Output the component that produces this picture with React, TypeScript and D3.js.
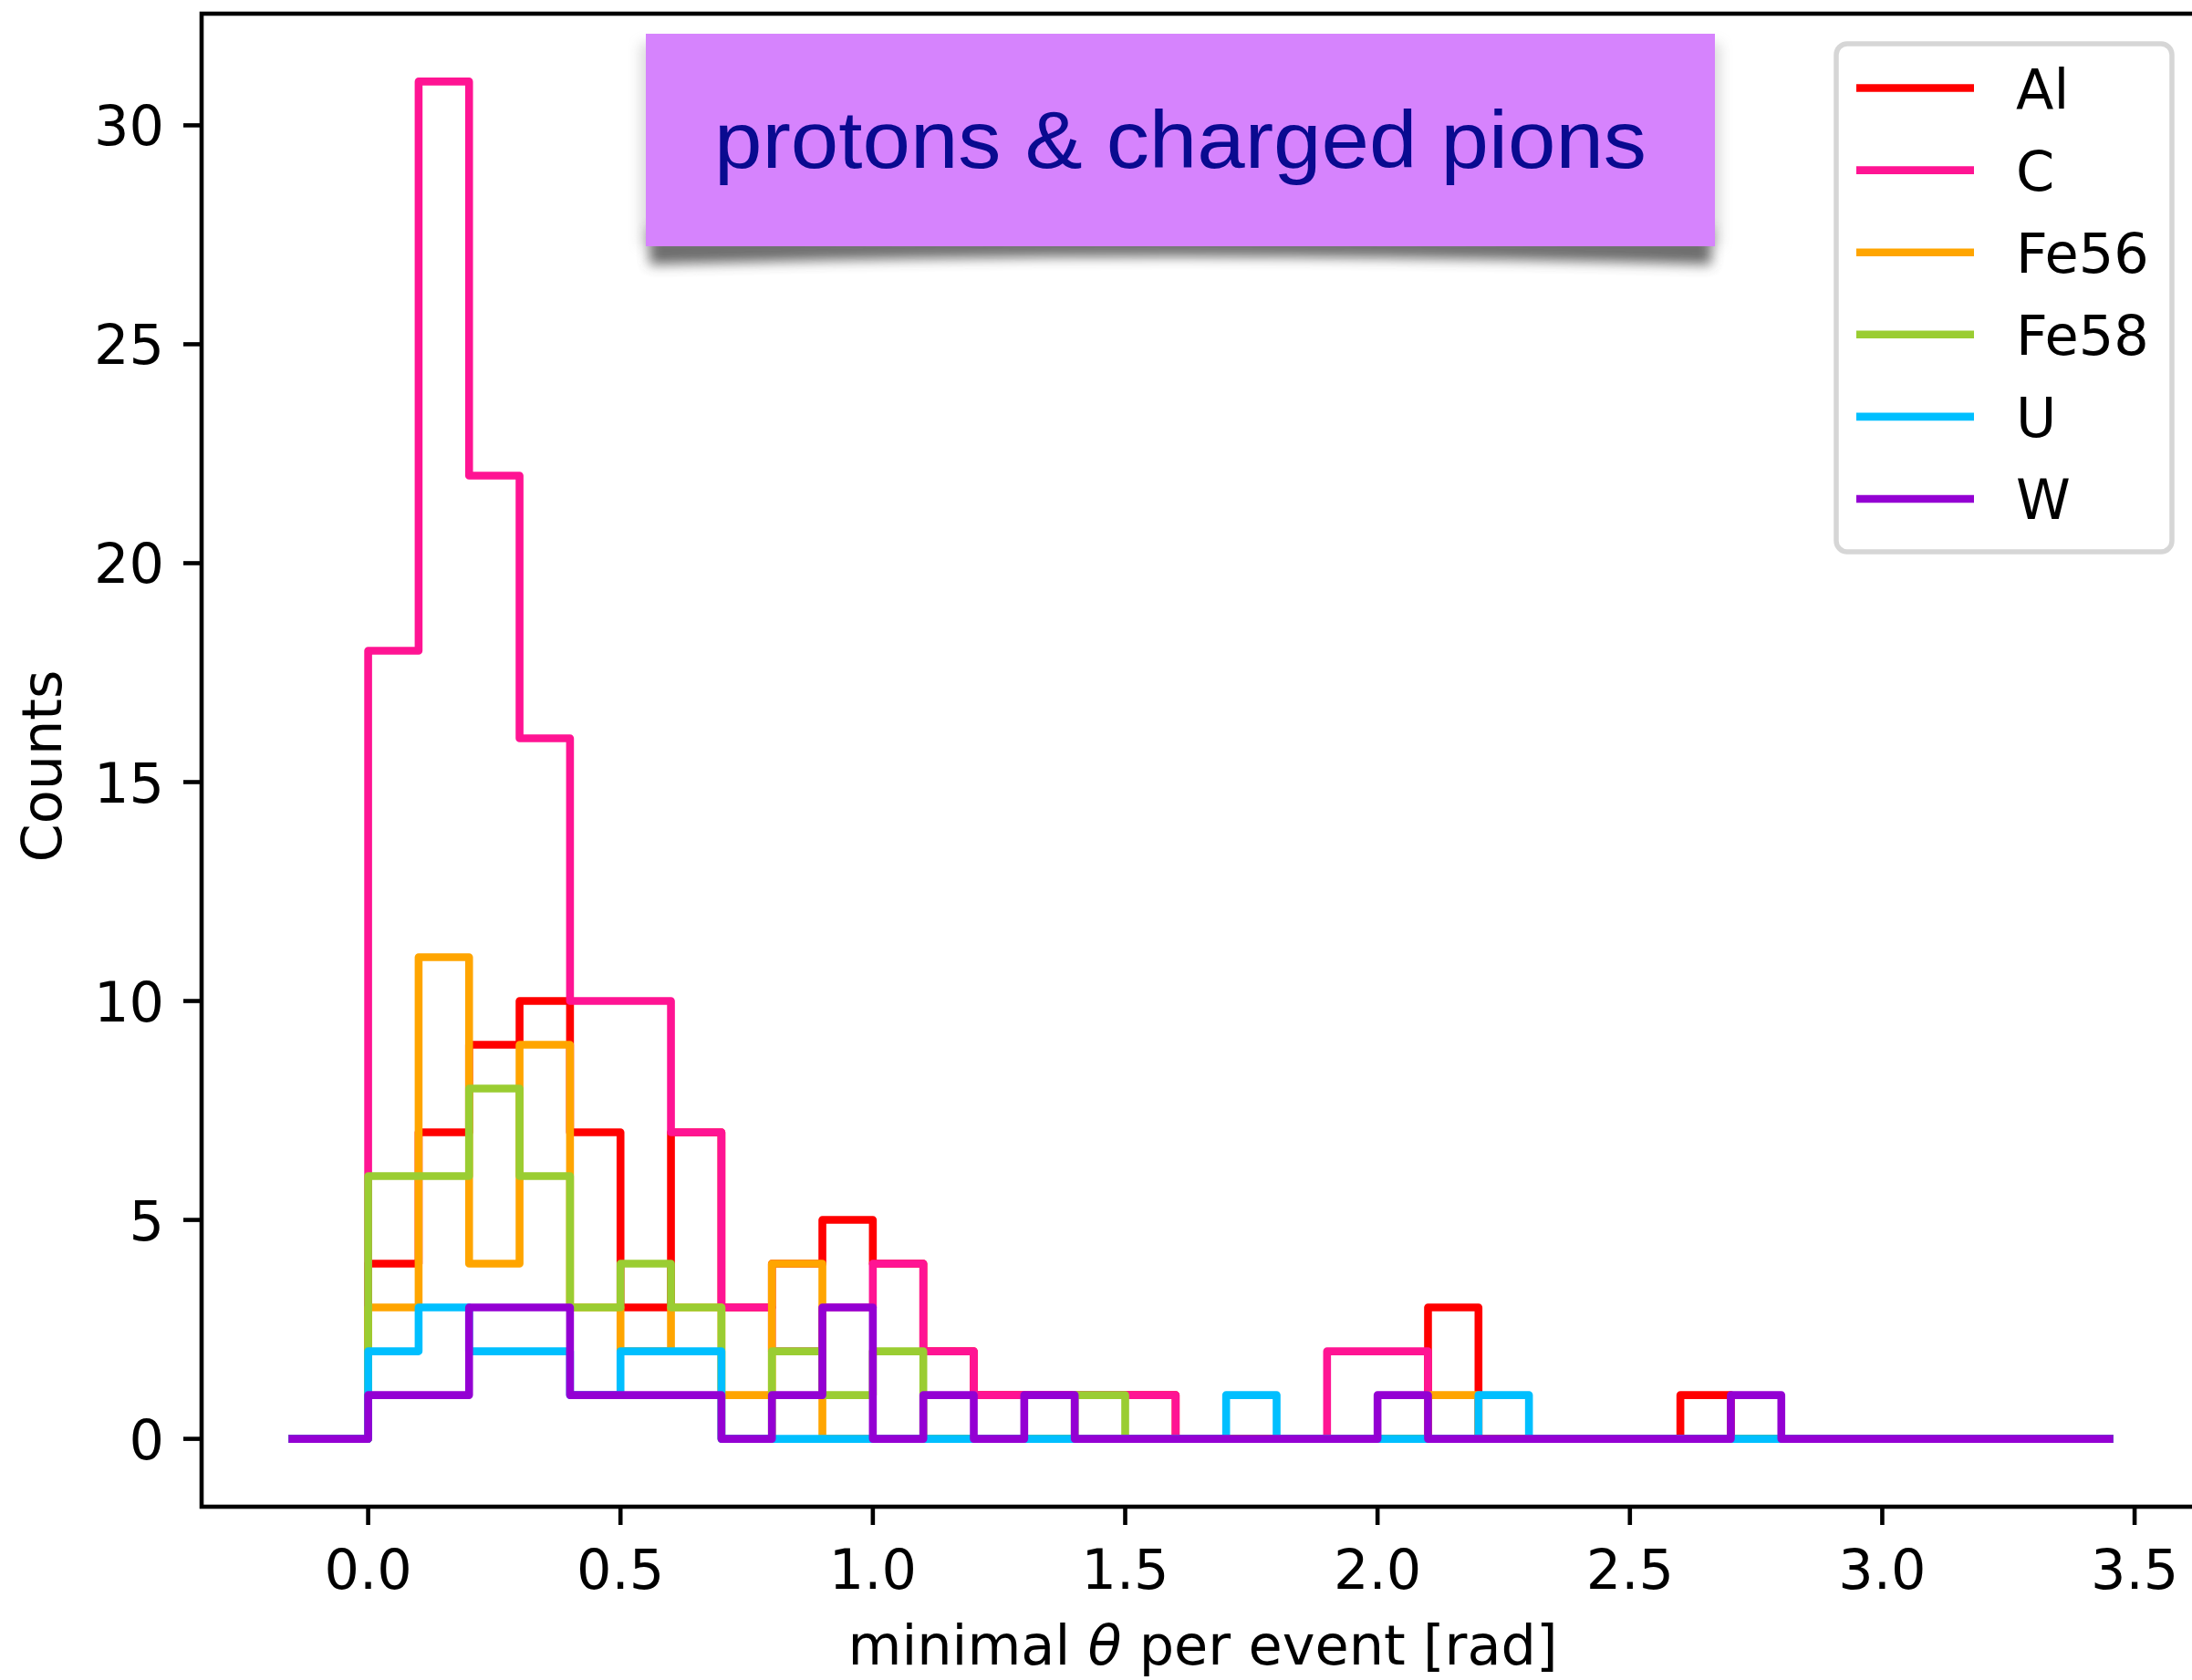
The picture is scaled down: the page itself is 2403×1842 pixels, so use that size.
import React from "react";
import * as d3 from "d3";

// ---- data ----
const seriesNames = ["Al", "C", "Fe56", "Fe58", "U", "W"];
const seriesColors = ["#ff0000", "#ff1493", "#ffa500", "#9acd32", "#00bfff", "#9400d3"];
// counts per 0.1 rad bin, bins start at 0.0 (0.0-0.1, 0.1-0.2, ... 2.7-2.8)
const countsAl = [4, 7, 9, 10, 7, 3, 7, 3, 4, 5, 4, 2, 1, 1, 1, 1, 0, 0, 0, 0, 0, 3, 0, 0, 0, 0, 1, 0];
const countsC = [18, 31, 22, 16, 10, 10, 7, 3, 2, 3, 4, 2, 1, 1, 1, 1, 0, 0, 0, 2, 2, 0, 0, 0, 0, 0, 0, 0];
const countsFe56 = [3, 11, 4, 9, 3, 2, 3, 1, 4, 0, 0, 0, 0, 0, 0, 0, 0, 0, 0, 0, 0, 1, 0, 0, 0, 0, 0, 0];
const countsFe58 = [6, 6, 8, 6, 3, 4, 3, 0, 2, 1, 2, 0, 0, 0, 1, 0, 0, 0, 0, 0, 0, 0, 0, 0, 0, 0, 0, 0];
const countsU = [2, 3, 2, 2, 1, 2, 2, 0, 0, 0, 0, 0, 0, 0, 0, 0, 0, 1, 0, 0, 0, 0, 1, 0, 0, 0, 0, 0];
const countsW = [1, 1, 3, 3, 1, 1, 1, 0, 1, 3, 0, 1, 0, 1, 0, 0, 0, 0, 0, 0, 1, 0, 0, 0, 0, 0, 0, 1];
const allCounts = [countsAl, countsC, countsFe56, countsFe58, countsU, countsW];
const binStart = 0.0;
const binWidth = 0.1;
const lineStart = -0.15;
const lineEnd = 3.45;
const xTicks = [0, 0.5, 1.0, 1.5, 2.0, 2.5, 3.0, 3.5];
const yTicks = [0, 5, 10, 15, 20, 25, 30];
const xDomain = [-0.33, 3.63];
const yDomain = [-1.55, 32.55];
const titleText = "protons & charged pions";
const xLabel = "minimal ";
const xLabelSym = "θ";
const xLabelRest = " per event [rad]";
const yLabel = "Counts";

const W = 2403;
const H = 1842;
const M = { left: 221, right: 2412, top: 15, bottom: 1652 };
const FS = 60.5;
const LW = 8.6;
const SW = 4.6;

export default function App() {
  const x = d3.scaleLinear().domain(xDomain).range([M.left, M.right]);
  const y = d3.scaleLinear().domain(yDomain).range([M.bottom, M.top]);
  const line = d3
    .line<[number, number]>()
    .x((d) => x(d[0]))
    .y((d) => y(d[1]))
    .curve(d3.curveStepAfter);

  const paths = allCounts.map((counts) => {
    const pts: [number, number][] = [[lineStart, 0]];
    counts.forEach((c, i) => pts.push([binStart + i * binWidth, c]));
    pts.push([binStart + counts.length * binWidth, 0]);
    pts.push([lineEnd, 0]);
    return line(pts) as string;
  });

  const fmt = d3.format(".1f");
  const font = "'DejaVu Sans', sans-serif";

  // legend geometry
  const lg = { x0: 2013, y0: 48, x1: 2381, y1: 605, rowY0: 96.5, rowDy: 90.1, lx0: 2035, lx1: 2164, tx: 2210 };
  // title box
  const tb = { x0: 708, y0: 37, x1: 1880, y1: 270 };

  return (
    <svg
      width={W}
      height={H}
      style={{ position: "absolute", left: 0, top: 0, display: "block", background: "#fff" }}
    >
      <defs>
        <filter id="blur1" x="-20%" y="-50%" width="140%" height="200%">
          <feGaussianBlur stdDeviation="7" />
        </filter>
      </defs>
      <rect x={0} y={0} width={W} height={H} fill="#fff" />

      {/* series */}
      {paths.map((p, i) => (
        <path
          key={seriesNames[i]}
          d={p}
          fill="none"
          stroke={seriesColors[i]}
          strokeWidth={LW}
          strokeLinejoin="round"
          strokeLinecap="square"
        />
      ))}

      {/* spines */}
      <rect
        x={M.left}
        y={M.top}
        width={M.right - M.left}
        height={M.bottom - M.top}
        fill="none"
        stroke="#000"
        strokeWidth={SW}
      />

      {/* x ticks */}
      {xTicks.map((t) => (
        <g key={"x" + t}>
          <line x1={x(t)} x2={x(t)} y1={M.bottom} y2={M.bottom + 20} stroke="#000" strokeWidth={SW} />
          <text x={x(t)} y={1742} textAnchor="middle" fontFamily={font} fontSize={FS} fill="#000">
            {fmt(t)}
          </text>
        </g>
      ))}
      {/* y ticks */}
      {yTicks.map((t) => (
        <g key={"y" + t}>
          <line x1={M.left - 20} x2={M.left} y1={y(t)} y2={y(t)} stroke="#000" strokeWidth={SW} />
          <text x={180} y={y(t) + 22} textAnchor="end" fontFamily={font} fontSize={FS} fill="#000">
            {t}
          </text>
        </g>
      ))}

      {/* axis labels */}
      <text x={(M.left + M.right) / 2 + 2} y={1825} textAnchor="middle" fontFamily={font} fontSize={FS} fill="#000">
        {xLabel}
        <tspan fontStyle="italic">{xLabelSym}</tspan>
        {xLabelRest}
      </text>
      <text
        transform={`translate(67, 840) rotate(-90)`}
        textAnchor="middle"
        fontFamily={font}
        fontSize={FS}
        fill="#000"
      >
        {yLabel}
      </text>

      {/* legend */}
      <rect
        x={lg.x0}
        y={lg.y0}
        width={lg.x1 - lg.x0}
        height={lg.y1 - lg.y0}
        rx={12}
        ry={12}
        fill="rgba(255,255,255,0.8)"
        stroke="#d6d6d6"
        strokeWidth={5.5}
      />
      {seriesNames.map((n, i) => {
        const yy = lg.rowY0 + i * lg.rowDy;
        return (
          <g key={"lg" + n}>
            <line x1={lg.lx0} x2={lg.lx1} y1={yy} y2={yy} stroke={seriesColors[i]} strokeWidth={LW} />
            <text x={lg.tx} y={yy + 22} fontFamily={font} fontSize={FS} fill="#000">
              {n}
            </text>
          </g>
        );
      })}

      {/* title box with shadow */}
      <path
        d={`M${tb.x0 + 4},${tb.y1 - 20} L${tb.x1 - 4},${tb.y1 - 20} L${tb.x1 - 4},${tb.y1 + 20} Q${(tb.x0 + tb.x1) / 2},${tb.y1 + 2} ${tb.x0 + 4},${tb.y1 + 20} Z`}
        fill="#444"
        opacity={0.8}
        filter="url(#blur1)"
      />
      <rect
        x={tb.x0 - 6}
        y={tb.y0 + 10}
        width={tb.x1 - tb.x0 + 12}
        height={tb.y1 - tb.y0 - 10}
        fill="#999"
        opacity={0.35}
        filter="url(#blur1)"
      />
      <rect x={tb.x0} y={tb.y0} width={tb.x1 - tb.x0} height={tb.y1 - tb.y0} fill="#d683fd" />
      <text
        x={(tb.x0 + tb.x1) / 2}
        y={184}
        textAnchor="middle"
        fontFamily="'Liberation Sans', Arial, sans-serif"
        fontSize={89}
        fill="#0a0a90"
        textLength={1022}
        lengthAdjust="spacingAndGlyphs"
      >
        {titleText}
      </text>
    </svg>
  );
}
